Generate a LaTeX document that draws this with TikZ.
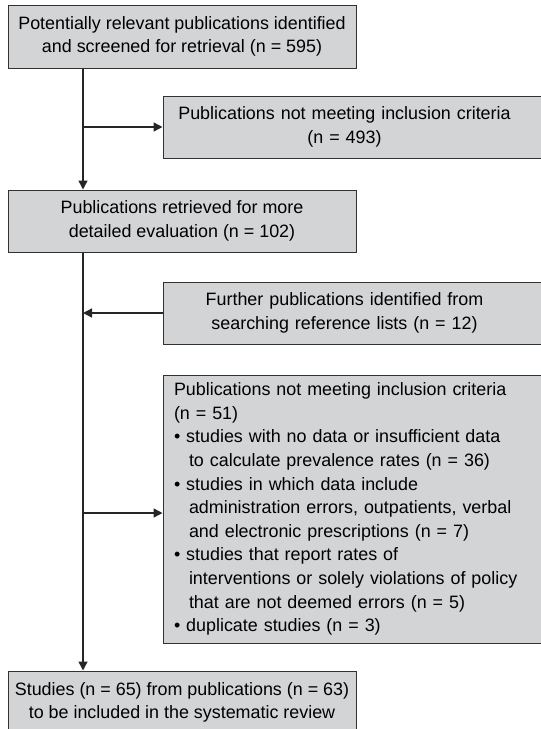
\documentclass[tikz,border=0pt]{standalone}
\usepackage{fontspec}
\setmainfont{Liberation Sans}
\usetikzlibrary{arrows.meta}
\definecolor{boxgray}{RGB}{211,212,214}
\definecolor{edgegray}{RGB}{50,50,50}

\begin{document}
\begin{tikzpicture}[x=1pt,y=-1pt,
    box/.style={draw=edgegray,fill=boxgray,line width=1pt,inner sep=0pt,align=center,
        font=\fontsize{17.9}{23.6}\selectfont},
    sidebox/.style={box,text width=382,minimum height=62,
        execute at begin node={\leftskip=0pt plus 1fil\rightskip=19pt plus 1fil\parfillskip=0pt}},
    arr/.style={line width=1.4pt,draw=black!85,-{Triangle[length=9pt,width=9pt]}}]
    \useasboundingbox (0,0) rectangle (541,729);
    \clip (0,0) rectangle (541,729);

    % main column
    \node (found) at (182,36.5) [box,minimum width=348,minimum height=63] {Potentially relevant publications identified\\and screened for retrieval (n = 595)};
    \node (detail) at (182,221) [box,minimum width=348,minimum height=62] {Publications retrieved for more\\detailed evaluation (n = 102)};
    \node (final) at (182,702.5) [box,minimum width=348,minimum height=63] {Studies (n = 65) from publications (n = 63)\\to be included in the systematic review};

    % side boxes
    \node (excl1) at (354,127) [sidebox] {Publications not meeting inclusion criteria\\(n = 493)};
    \node (extra) at (354,313) [sidebox] {Further publications identified from\\searching reference lists (n = 12)};
    \node (excl2) at (354,509) [box,align=left,text width=360,inner xsep=11pt,minimum height=268] {Publications not meeting inclusion criteria\\
        (n = 51)\\
        • studies with no data or insufficient data\\
        \hspace*{15pt}to calculate prevalence rates (n = 36)\\
        • studies in which data include\\
        \hspace*{15pt}administration errors, outpatients, verbal\\
        \hspace*{15pt}and electronic prescriptions (n = 7)\\
        • studies that report rates of\\
        \hspace*{15pt}interventions or solely violations of policy\\
        \hspace*{15pt}that are not deemed errors (n = 5)\\
        • duplicate studies (n = 3)};

    % branch points on the trunk
    \coordinate (j1) at (83,127);
    \coordinate (j2) at (83,313);
    \coordinate (j3) at (83,513);

    \draw[arr] (found.south -| j1) -- (detail.north -| j1);
    \draw[arr] (j1) -- (excl1.west |- j1);
    \draw[arr] (detail.south -| j2) -- (final.north -| j2);
    \draw[arr] (extra.west |- j2) -- (j2);
    \draw[arr] (j3) -- (excl2.west |- j3);
\end{tikzpicture}
\end{document}
